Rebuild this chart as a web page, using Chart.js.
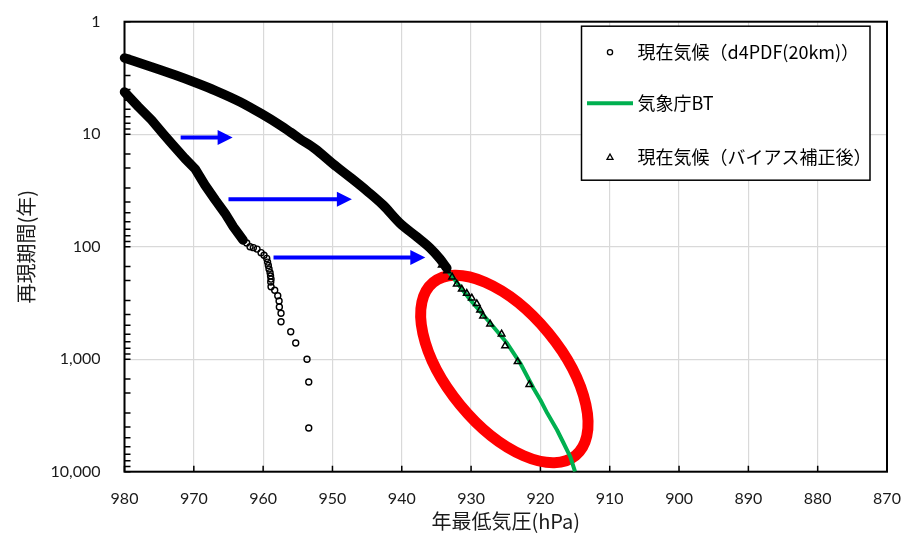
<!DOCTYPE html>
<html>
<head>
<meta charset="utf-8">
<script src="https://cdn.jsdelivr.net/npm/chart.js@4/dist/chart.umd.min.js"></script>
<style>
  html, body { margin: 0; padding: 0; background: #fff; }
  #wrap { width: 913px; height: 541px; }
</style>
</head>
<body>
<div id="wrap"><canvas id="c" width="913" height="541"></canvas></div>
<script>
// 年最低気圧 (hPa) と再現期間 (年)

// 現在気候 (d4PDF 20km) : 連続した帯の部分
const d4pdfBandP = [980.0, 978.0, 976.1, 974.4, 973.0, 971.3, 969.8, 968.4, 966.9, 965.5, 964.3, 962.9];
const d4pdfBandT = [4.22, 5.70, 7.48, 9.96, 12.5, 16.4, 20.4, 28.3, 38.5, 50.5, 66.4, 87.1];
// 現在気候 (d4PDF 20km) : 個別の点
const d4pdfP = [962.37, 961.89, 961.41, 960.88, 960.30, 959.87, 959.48, 959.36, 959.25, 959.15, 959.00, 958.93, 958.86, 958.90, 958.86, 958.33, 957.89, 957.70, 957.66, 957.42, 957.42, 956.02, 955.30, 953.67, 953.42, 953.42];
const d4pdfT = [92.7, 100, 102, 105, 113, 119, 127, 137, 147, 158, 170, 182, 194, 206, 227, 244, 273, 304, 344, 391, 464, 570, 718, 1002, 1595, 4090];

// 現在気候 (バイアス補正後) : 連続した帯の部分
const biasBandP = [980.0, 976.3, 972.7, 969.8, 966.9, 963.3, 960.2, 957.6, 956.1, 954.7, 952.5, 949.9, 947.5, 945.0, 942.7, 940.3, 937.8, 935.9, 934.5, 933.5];
const biasBandT = [2.10, 2.50, 2.98, 3.47, 4.09, 5.17, 6.61, 8.28, 9.56, 11.0, 13.5, 18.4, 24.0, 32.0, 42.6, 61.5, 82.0, 103, 128, 155];
// 現在気候 (バイアス補正後) : 個別の点
const biasP = [934.23, 933.46, 932.74, 932.06, 931.34, 930.62, 929.90, 929.18, 928.70, 928.27, 927.26, 925.60, 925.09, 923.29, 921.60];
const biasT = [146, 164, 186, 215, 238, 260, 286, 321, 366, 413, 487, 597, 759, 1052, 1679];

// 気象庁BT
const btP = [943.1, 940.3, 936.4, 933.8, 930.1, 927.0, 924.8, 922.9, 921.0, 920.0, 919.0, 917.6, 916.7, 915.7, 915.0];
const btT = [38.5, 57.9, 103, 151, 298, 497, 722, 1087, 1814, 2306, 3030, 4260, 5500, 7360, 10000];

// 補正による移動を示す矢印 (始点気圧, 終点気圧, 再現期間)
const arrowFromP = [971.9, 965.0, 958.5];
const arrowToP = [964.4, 947.2, 936.6];
const arrowT = [10.7, 37.9, 125];

// 強調の楕円 (中心)
const ellipseP = 925.2;
const ellipseT = 1222;

// 軸
const xMin = 870, xMax = 980, xStep = 10;
const yTickValues = [1, 10, 100, 1000, 10000];
const yTickLabels = ['1', '10', '100', '1,000', '10,000'];

const seriesNames = ['現在気候（d4PDF(20km)）', '気象庁BT', '現在気候（バイアス補正後）'];

const pts = (P, T) => P.map((p, i) => ({ x: p, y: T[i] }));
const decadeIndex = v => yTickValues.findIndex(t => Math.abs(Math.log10(v) - Math.log10(t)) < 1e-6);

const GREEN = '#00B050';
const CJK = '"Noto Sans CJK JP", "Noto Sans CJK SC", sans-serif';

const overlay = {
  id: 'overlay',
  beforeDatasetsDraw(chart) {
    const { ctx, chartArea: a, scales: { x, y } } = chart;
    ctx.save();
    // 枠
    ctx.strokeStyle = '#000';
    ctx.lineWidth = 2;
    ctx.strokeRect(a.left, a.top, a.right - a.left, a.bottom - a.top);
    // 内向きの目盛
    ctx.lineWidth = 1.5;
    ctx.beginPath();
    y.ticks.forEach(t => {
      const py = y.getPixelForValue(t.value);
      ctx.moveTo(a.left, py); ctx.lineTo(a.left + 6, py);
    });
    x.ticks.forEach(t => {
      const px = x.getPixelForValue(t.value);
      ctx.moveTo(px, a.bottom); ctx.lineTo(px, a.bottom - 6);
    });
    ctx.stroke();

    // 楕円
    ctx.beginPath();
    ctx.ellipse(x.getPixelForValue(ellipseP), y.getPixelForValue(ellipseT), 112, 57, 50.5 * Math.PI / 180, 0, Math.PI * 2);
    ctx.strokeStyle = '#FF0000';
    ctx.lineWidth = 11;
    ctx.stroke();

    // 矢印
    ctx.strokeStyle = '#0000FF';
    ctx.fillStyle = '#0000FF';
    arrowT.forEach((t, i) => {
      const x0 = x.getPixelForValue(arrowFromP[i]);
      const x1 = x.getPixelForValue(arrowToP[i]);
      const py = y.getPixelForValue(t);
      const head = 15;
      ctx.lineWidth = 4;
      ctx.lineCap = 'butt';
      ctx.beginPath();
      ctx.moveTo(x0, py); ctx.lineTo(x1 - head + 1, py);
      ctx.stroke();
      ctx.beginPath();
      ctx.moveTo(x1, py);
      ctx.lineTo(x1 - head, py - 7.5);
      ctx.lineTo(x1 - head, py + 7.5);
      ctx.closePath();
      ctx.fill();
    });
    ctx.restore();
  },
  afterDraw(chart) {
    const { ctx, chartArea: a } = chart;
    const bx = a.right - 305.5, by = a.top + 4.5, bw = 288.5, bh = 154;
    ctx.save();
    ctx.fillStyle = '#fff';
    ctx.fillRect(bx, by, bw, bh);
    ctx.strokeStyle = '#000';
    ctx.lineWidth = 1.5;
    ctx.strokeRect(bx, by, bw, bh);

    const rows = [by + 26, by + 77, by + 131];
    const mx = bx + 28.5;
    const tx = bx + 56;
    // 円
    ctx.lineWidth = 1.3;
    ctx.strokeStyle = '#000';
    ctx.beginPath();
    ctx.arc(mx, rows[0], 2.6, 0, Math.PI * 2);
    ctx.stroke();
    // 線
    ctx.strokeStyle = GREEN;
    ctx.lineWidth = 4;
    ctx.beginPath();
    ctx.moveTo(bx + 5.5, rows[1]); ctx.lineTo(bx + 51.5, rows[1]);
    ctx.stroke();
    // 三角
    ctx.strokeStyle = '#000';
    ctx.lineWidth = 1.3;
    ctx.beginPath();
    ctx.moveTo(mx, rows[2] - 3.2);
    ctx.lineTo(mx + 3, rows[2] + 2.2);
    ctx.lineTo(mx - 3, rows[2] + 2.2);
    ctx.closePath();
    ctx.stroke();

    ctx.fillStyle = '#000';
    ctx.font = '18px ' + CJK;
    ctx.textBaseline = 'middle';
    ctx.textAlign = 'left';
    ctx.fillText(seriesNames[0], tx, rows[0]);
    ctx.fillText(seriesNames[1], tx, rows[1]);
    ctx.fillText(seriesNames[2], tx, rows[2]);
    ctx.restore();
  }
};

const edgeClip = { left: 6, top: 0, right: 0, bottom: 0 };

new Chart(document.getElementById('c'), {
  type: 'scatter',
  data: {
    datasets: [
      {
        label: seriesNames[2],
        data: pts(biasP, biasT),
        pointStyle: 'triangle',
        pointRadius: 3.8,
        borderWidth: 1.5,
        borderColor: '#000',
        backgroundColor: 'rgba(0,0,0,0)',
        order: 0
      },
      {
        label: seriesNames[0],
        data: pts(d4pdfP, d4pdfT),
        pointStyle: 'circle',
        pointRadius: 3,
        borderWidth: 1.4,
        borderColor: '#000',
        backgroundColor: 'rgba(0,0,0,0)',
        order: 1
      },
      {
        label: seriesNames[2],
        data: pts(biasBandP, biasBandT),
        showLine: true,
        pointRadius: 0,
        borderWidth: 9.5,
        borderColor: '#000',
        borderCapStyle: 'round',
        borderJoinStyle: 'round',
        cubicInterpolationMode: 'monotone',
        clip: edgeClip,
        order: 2
      },
      {
        label: seriesNames[0],
        data: pts(d4pdfBandP, d4pdfBandT),
        showLine: true,
        pointRadius: 0,
        borderWidth: 9.5,
        borderColor: '#000',
        borderCapStyle: 'round',
        borderJoinStyle: 'round',
        clip: edgeClip,
        order: 2
      },
      {
        label: seriesNames[1],
        data: pts(btP, btT),
        showLine: true,
        pointRadius: 0,
        borderWidth: 4,
        borderColor: GREEN,
        borderJoinStyle: 'round',
        order: 3
      }
    ]
  },
  options: {
    responsive: false,
    animation: false,
    events: [],
    layout: { padding: { left: 0, top: 21.7, right: 26, bottom: 0 } },
    plugins: { legend: { display: false }, tooltip: { enabled: false } },
    scales: {
      x: {
        type: 'linear',
        reverse: true,
        min: xMin,
        max: xMax,
        afterFit: s => { s.height = 69.3; s.paddingLeft = 0; s.paddingRight = 0; },
        border: { display: false },
        grid: { color: '#D9D9D9', lineWidth: 1.2, drawTicks: false },
        ticks: {
          stepSize: xStep,
          autoSkip: false,
          maxRotation: 0,
          padding: 18,
          color: '#1a1a1a',
          font: { family: 'Lato', size: 16 },
          callback: v => String(v)
        },
        title: {
          display: true,
          text: '年最低気圧(hPa)',
          color: '#1a1a1a',
          font: { family: CJK, size: 20 },
          padding: { top: 0, bottom: 8 }
        }
      },
      y: {
        type: 'logarithmic',
        reverse: true,
        min: 1,
        max: 10000,
        afterFit: s => { s.width = 124.5; s.paddingTop = 0; s.paddingBottom = 0; },
        border: { display: false },
        grid: {
          drawTicks: false,
          lineWidth: 1.2,
          color: c => (decadeIndex(c.tick.value) >= 0 ? '#D9D9D9' : 'rgba(0,0,0,0)')
        },
        ticks: {
          autoSkip: false,
          padding: 24,
          color: '#1a1a1a',
          font: { family: 'Lato', size: 16 },
          callback: v => {
            const i = decadeIndex(v);
            return i >= 0 ? yTickLabels[i] : '';
          }
        },
        title: {
          display: true,
          text: '再現期間(年)',
          color: '#1a1a1a',
          font: { family: CJK, size: 20 },
          padding: { top: 14, bottom: 0 }
        }
      }
    }
  },
  plugins: [overlay]
});
</script>
</body>
</html>
